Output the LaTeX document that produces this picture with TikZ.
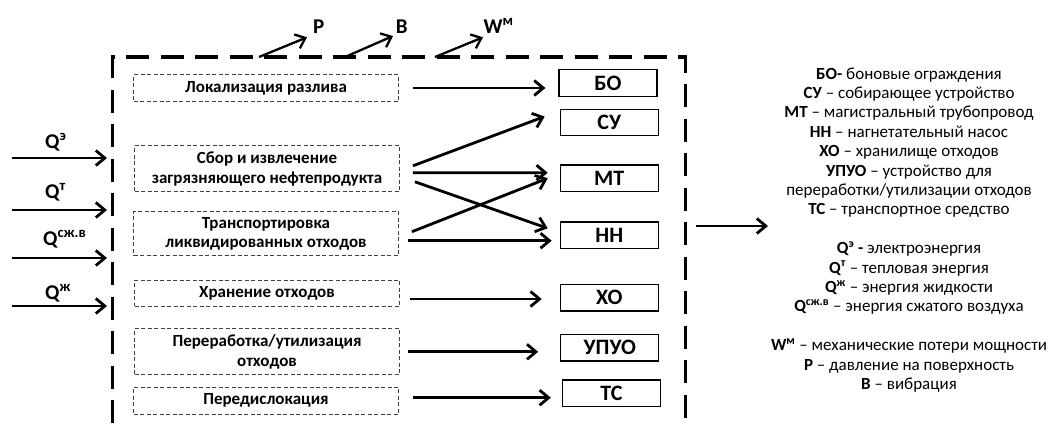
\documentclass[tikz,border=0pt]{standalone}
\usepackage{fontspec}
\setmainfont{Carlito}
\usetikzlibrary{arrows.meta}
\tikzset{stage/.style={draw=black!75, dash pattern=on 4pt off 2.5pt, line width=0.9pt, minimum width=265pt, minimum height=27pt, inner sep=1pt, align=center, font=\bfseries\fontsize{17}{19.5}\selectfont},
  unit/.style={draw, line width=1.2pt, minimum width=98pt, minimum height=26.5pt, inner sep=0pt, font=\bfseries\fontsize{22}{22}\selectfont},
  flow/.style={line width=2.8pt, -{Straight Barb[length=9pt,width=15pt]}},
  tag/.style={inner sep=0pt, anchor=base west, font=\bfseries\fontsize{21}{21}\selectfont}}

\begin{document}
\begin{tikzpicture}[x=1pt, y=-1pt]
\useasboundingbox (0,0) rectangle (1054,423);

% outer border, runs off the bottom
\draw[line width=3.3pt, dash pattern=on 23pt off 11.5pt] (112.7,423) |- (685.7,57) -- (685.7,423);

% stages
\node[stage] (lok) at (266,88) {Локализация разлива};
\node[stage, minimum height=46pt] (sbor) at (267,168.8) {Сбор и извлечение\\загрязняющего нефтепродукта};
\node[stage, minimum height=44pt] (trans) at (266,233.7) {Транспортировка\\ликвидированных отходов};
\node[stage, minimum height=26pt] (hran) at (267,293) {Хранение отходов};
\node[stage, minimum height=46pt] (pere) at (267,351.8) {Переработка/утилизация\\отходов};
\node[stage] (dis) at (266,400.7) {Передислокация};

% units
\node[unit] (bo) at (608,83) {БО};
\node[unit] (su) at (609.3,122.5) {СУ};
\node[unit] (mt) at (609.3,178.3) {МТ};
\node[unit] (nn) at (609.3,235.3) {НН};
\node[unit] (ho) at (609.3,297.7) {ХО};
\node[unit] (upuo) at (609.8,347.7) {УПУО};
\node[unit] (ts) at (611.4,393.3) {ТС};

\draw[flow] ([xshift=14pt]lok.east) -- ([xshift=-13pt]lok.east -| bo.west);
\draw[flow] ([shift={(13pt,3pt)}]sbor.east) -- ([shift={(-15pt,6pt)}]su.west);
\draw[flow] ([shift={(13pt,-4pt)}]sbor.east) -- ([shift={(-12pt,5.6pt)}]mt.west);
\draw[flow] ([shift={(15pt,-13pt)}]sbor.east) -- ([shift={(-12pt,7pt)}]nn.west);
\draw[flow] ([shift={(13pt,2pt)}]trans.east) -- ([xshift=-12pt]mt.west);
\draw[flow] ([shift={(9pt,-7pt)}]trans.east) -- ([shift={(-8pt,-5.4pt)}]nn.west);
\draw[flow] ([shift={(10pt,-6pt)}]hran.east) -- ([shift={(-18pt,-6pt)}]hran.east -| ho.west);
\draw[flow] ([xshift=8pt]pere.east) -- ([xshift=-22pt]pere.east -| upuo.west);
\draw[flow] ([shift={(14pt,3pt)}]dis.east) -- ([shift={(-11pt,3pt)}]dis.east -| ts.west);

% energy inputs
\coordinate (qe1) at (11.7,158); \coordinate (qe2) at (107,158);
\coordinate (qt1) at (11.7,210); \coordinate (qt2) at (107,210);
\coordinate (qs1) at (11.7,258); \coordinate (qs2) at (107,258);
\coordinate (qz1) at (11.7,306); \coordinate (qz2) at (107,306);
\draw[flow] (qe1) -- (qe2);
\draw[flow] (qt1) -- (qt2);
\draw[flow] (qs1) -- (qs2);
\draw[flow] (qz1) -- (qz2);
\node[tag] (qe) at (45,148) {Q\textsuperscript{э}};
\node[tag] (qt) at (45,198) {Q\textsuperscript{т}};
\node[tag] (qs) at (43,245.5) {Q\textsuperscript{сж.в}};
\node[tag] (qz) at (45,299.5) {Q\textsuperscript{ж}};

% losses
\node[tag] (p) at (313,33) {P};
\node[tag] (b) at (395.7,33) {В};
\node[tag] (w) at (483.3,33) {W\textsuperscript{м}};
\coordinate (p0) at (259,57); \coordinate (b0) at (345,57); \coordinate (w0) at (435,57);
\coordinate (p1) at (307,37.3); \coordinate (b1) at (393,36); \coordinate (w1) at (483,37.3);
\draw[flow, line width=2.3pt] (p0) -- (p1);
\draw[flow, line width=2.3pt] (b0) -- (b1);
\draw[flow, line width=2.3pt] (w0) -- (w1);

% output
\coordinate (out1) at (696,226); \coordinate (out2) at (768,226);
\draw[flow] (out1) -- (out2);

% legend
\node[align=center, inner sep=0pt, font=\fontsize{17}{19.4}\selectfont] (leg) at (909,230) {%
\textbf{БО-} боновые ограждения\\
\textbf{СУ} – собирающее устройство\\
\textbf{МТ} – магистральный трубопровод\\
\textbf{НН} – нагнетательный насос\\
\textbf{ХО} – хранилище отходов\\
\textbf{УПУО} – устройство для\\
переработки/утилизации отходов\\
\textbf{ТС} – транспортное средство\\[19.4pt]
\textbf{Q\textsuperscript{э} -} электроэнергия\\
\textbf{Q\textsuperscript{т}} – тепловая энергия\\
\textbf{Q\textsuperscript{ж}} – энергия жидкости\\
\textbf{Q\textsuperscript{сж.в}} – энергия сжатого воздуха\\[19.4pt]
\textbf{W\textsuperscript{м}} – механические потери мощности\\
\textbf{P} – давление на поверхность\\
\textbf{В} – вибрация};

\end{tikzpicture}
\end{document}
